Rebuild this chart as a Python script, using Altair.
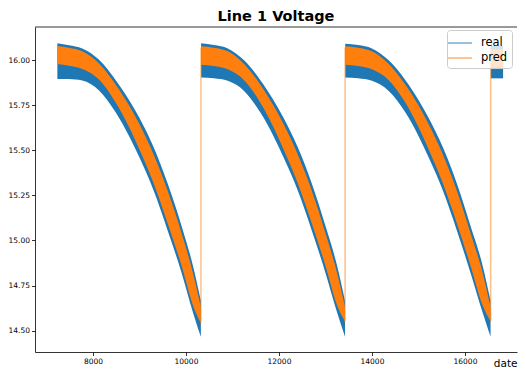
import altair as alt
import pandas as pd

# ---- data (envelopes of the noisy series) ----
# cycle 1
c1_x       = [7234, 7480, 7770, 8130, 8490, 8775, 9000, 9300, 9600, 9900, 10150, 10320]
c1_real_lo = [15.897, 15.896, 15.888, 15.833, 15.71, 15.58, 15.46, 15.28, 15.06, 14.825, 14.60, 14.465]
c1_real_hi = [16.095, 16.084, 16.066, 16.003, 15.89, 15.78, 15.68, 15.52, 15.32, 15.085, 14.86, 14.665]
c1_pred_lo = [15.98, 15.97, 15.952, 15.893, 15.765, 15.63, 15.505, 15.32, 15.10, 14.865, 14.64, 14.54]
c1_pred_hi = [16.08, 16.07, 16.05, 15.983, 15.865, 15.75, 15.645, 15.48, 15.28, 15.045, 14.82, 14.63]
# cycle 2
c2_x       = [10325, 10600, 10900, 11250, 11600, 11880, 12100, 12400, 12700, 13000, 13250, 13420]
c2_real_lo = [15.905, 15.90, 15.886, 15.83, 15.71, 15.58, 15.46, 15.28, 15.06, 14.82, 14.60, 14.466]
c2_real_hi = [16.095, 16.085, 16.066, 16.00, 15.89, 15.78, 15.68, 15.52, 15.32, 15.08, 14.86, 14.665]
c2_pred_lo = [15.975, 15.968, 15.95, 15.89, 15.765, 15.63, 15.505, 15.32, 15.10, 14.86, 14.64, 14.55]
c2_pred_hi = [16.078, 16.07, 16.05, 15.98, 15.865, 15.75, 15.645, 15.48, 15.28, 15.04, 14.82, 14.63]
# cycle 3
c3_x       = [13425, 13700, 14000, 14360, 14720, 15000, 15220, 15520, 15820, 16120, 16380, 16550]
c3_real_lo = [15.905, 15.90, 15.886, 15.83, 15.71, 15.58, 15.46, 15.28, 15.06, 14.82, 14.60, 14.466]
c3_real_hi = [16.092, 16.085, 16.066, 16.00, 15.89, 15.78, 15.68, 15.52, 15.32, 15.08, 14.86, 14.665]
c3_pred_lo = [15.975, 15.968, 15.95, 15.89, 15.765, 15.63, 15.505, 15.32, 15.10, 14.86, 14.64, 14.55]
c3_pred_hi = [16.078, 16.07, 16.05, 15.98, 15.865, 15.75, 15.645, 15.48, 15.28, 15.04, 14.82, 14.63]
# short tail after the last reset
c4_x       = [16555, 16820]
c4_real_lo = [15.90, 15.90]
c4_real_hi = [16.08, 16.08]
c4_pred_lo = [15.96, 15.96]
c4_pred_hi = [16.06, 16.06]

# vertical resets of the prediction line
jump_x  = [10322, 13422, 16552]
jump_lo = [14.54, 14.55, 14.55]
jump_hi = [16.07, 16.07, 16.07]

series_names = ["real", "pred"]
series_colors = ["#1f77b4", "#ff7f0e"]
x_ticks = [8000, 10000, 12000, 14000, 16000]
y_ticks = [14.50, 14.75, 15.00, 15.25, 15.50, 15.75, 16.00]

rows = []
for cyc, (xs, rl, rh, pl, ph) in enumerate([
    (c1_x, c1_real_lo, c1_real_hi, c1_pred_lo, c1_pred_hi),
    (c2_x, c2_real_lo, c2_real_hi, c2_pred_lo, c2_pred_hi),
    (c3_x, c3_real_lo, c3_real_hi, c3_pred_lo, c3_pred_hi),
    (c4_x, c4_real_lo, c4_real_hi, c4_pred_lo, c4_pred_hi),
]):
    for i in range(len(xs)):
        rows.append({"cycle": cyc, "x": xs[i], "real_lo": rl[i], "real_hi": rh[i],
                     "pred_lo": pl[i], "pred_hi": ph[i]})
bands = pd.DataFrame(rows)
jumps = pd.DataFrame({"x": jump_x, "lo": jump_lo, "hi": jump_hi})
legend_df = pd.DataFrame({"series": series_names, "x": [None, None], "y": [None, None]})

FONT = "DejaVu Sans"
W, H = 482, 325
xscale = alt.Scale(domain=[6753, 17119], nice=False, zero=False)
yscale = alt.Scale(domain=[14.381, 16.185], nice=False, zero=False)

xaxis = alt.Axis(values=x_ticks, format="d", title="date", titleAnchor="end",
                 titleFontSize=10.5, titleFontWeight="normal", titleBaseline="alphabetic",
                 titleY=14, titleAlign="right", titleX=W)
yaxis = alt.Axis(values=y_ticks, format=".2f", title=None)

base = alt.Chart(bands)

real_area = base.mark_area(color=series_colors[0], interpolate="monotone", orient="vertical").encode(
    x=alt.X("x:Q", scale=xscale, axis=xaxis),
    y=alt.Y("real_lo:Q", scale=yscale, axis=yaxis),
    y2="real_hi:Q",
    detail="cycle:N",
)
pred_area = base.mark_area(color=series_colors[1], interpolate="monotone", orient="vertical").encode(
    x="x:Q",
    y="pred_lo:Q",
    y2="pred_hi:Q",
    detail="cycle:N",
)
jump_rules = alt.Chart(jumps).mark_rule(color=series_colors[1], opacity=0.5, strokeWidth=1.5).encode(
    x="x:Q", y="lo:Q", y2="hi:Q"
)
legend_layer = alt.Chart(legend_df).mark_line(strokeWidth=1.5, opacity=0.6).encode(
    x="x:Q",
    y="y:Q",
    color=alt.Color("series:N", scale=alt.Scale(domain=series_names, range=series_colors),
                    legend=alt.Legend(title=None, orient="none", legendX=412, legendY=3,
                                      symbolType="M-1.5,0H1.5", symbolSize=256, symbolStrokeWidth=1.5,
                                      labelFontSize=11.5, labelFont=FONT, labelOffset=12,
                                      rowPadding=0, padding=4,
                                      fillColor="rgba(255,255,255,0.8)", strokeColor="#cccccc",
                                      cornerRadius=3)),
)
# top spine of the frame
top_spine = alt.Chart(pd.DataFrame({"k": [0]})).mark_rule(color="black", strokeWidth=0.8).encode(
    x=alt.value(0), x2=alt.value(W), y=alt.value(0)
)

chart = alt.layer(real_area, pred_area, jump_rules, legend_layer, top_spine).properties(
    width=W, height=H,
    title=alt.TitleParams("Line 1 Voltage", fontSize=14.5, fontWeight="bold", font=FONT,
                          anchor="middle", offset=2.5, color="black"),
    padding={"left": 0, "top": 0, "right": 0, "bottom": 0},
).configure_view(strokeWidth=0).configure_axis(
    grid=False, domainColor="black", domainWidth=0.8, tickColor="black", tickWidth=0.8,
    tickSize=3.5, labelFont=FONT, labelFontSize=7.5, labelColor="black", labelPadding=2,
    titleFont=FONT, titleColor="black",
)

chart.save("out.html", embed_options={"renderer": "svg", "actions": False})
